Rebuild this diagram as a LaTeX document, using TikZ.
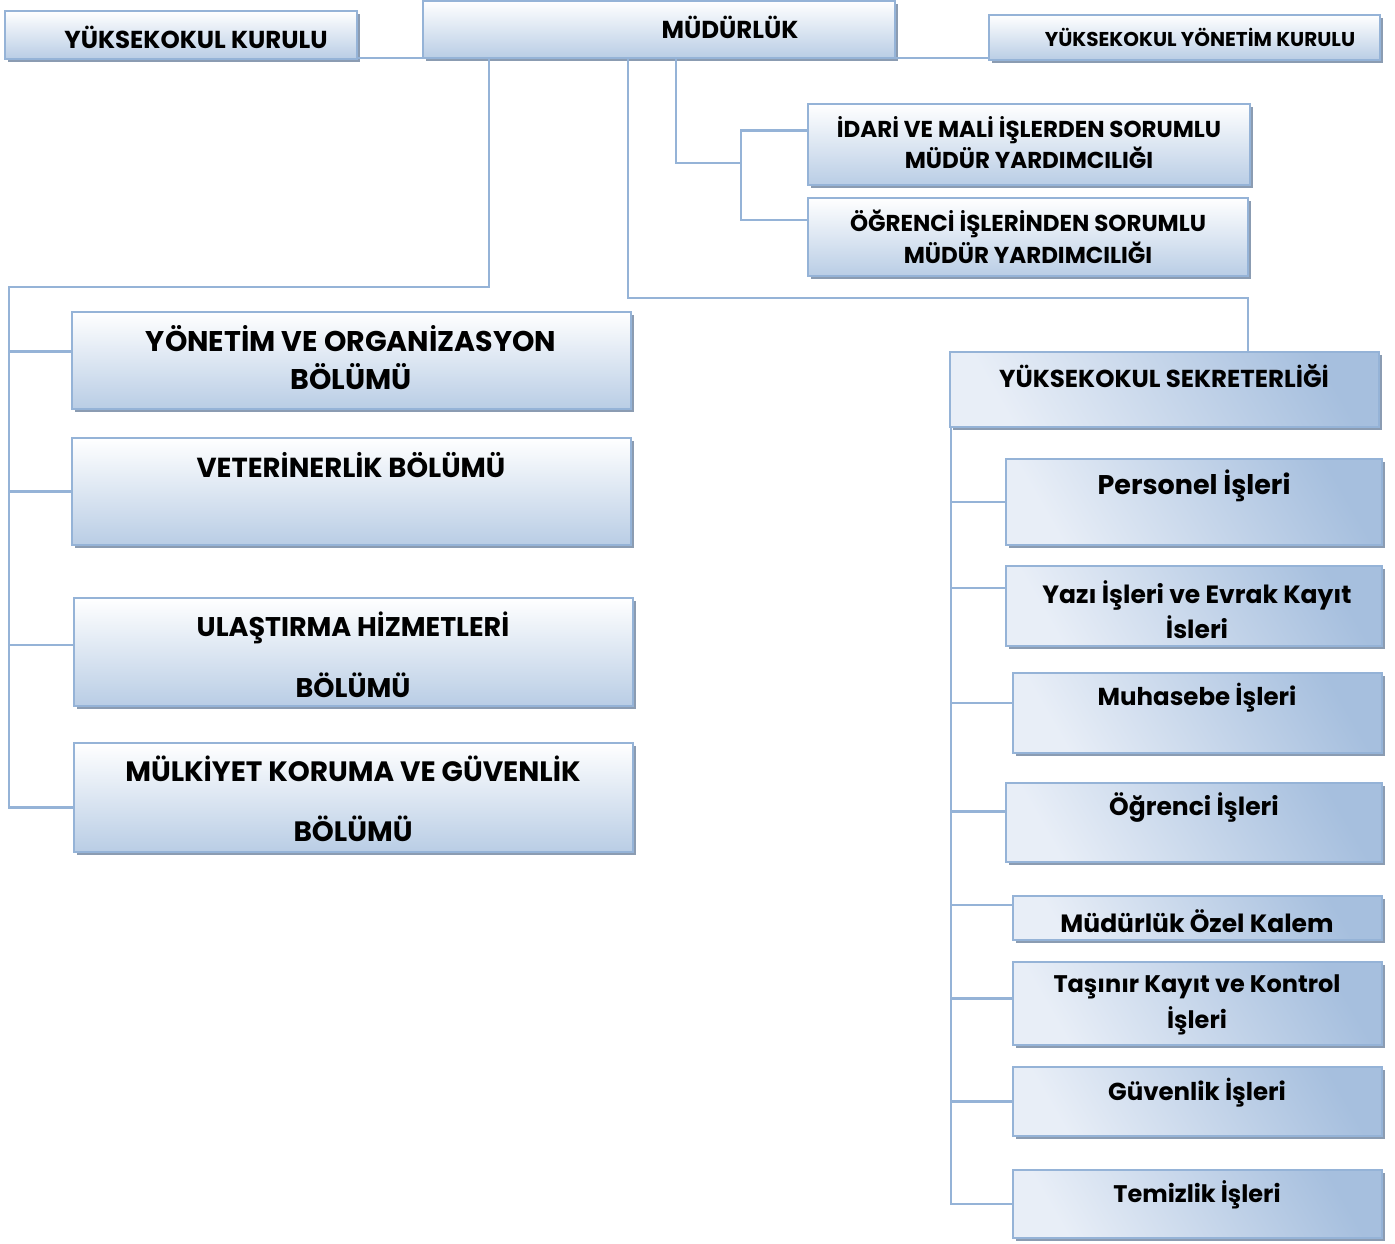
\documentclass[tikz,border=0pt]{standalone}
\usepackage{fontspec}
\setmainfont{Poppins}
\usetikzlibrary{positioning,fit,shadows,calc}
\definecolor{linkblue}{HTML}{95B3D7}
\definecolor{boxlow}{HTML}{B9CDE5}
\definecolor{boxdark}{HTML}{A6BFDE}
\definecolor{boxlight}{HTML}{E8EEF7}
\definecolor{shadowgray}{HTML}{8B9CB2}

\begin{document}
\begin{tikzpicture}[x=1pt,y=-1pt,
  unit/.style={draw=linkblue, line width=1.8pt, inner sep=0pt, top color=white, bottom color=boxlow,
    drop shadow={shadow xshift=3pt, shadow yshift=-3pt, fill=shadowgray, opacity=1}},
  desk/.style={draw=linkblue, line width=1.8pt, inner sep=0pt, top color=boxdark, bottom color=boxlight, shading angle=-60,
    drop shadow={shadow xshift=3pt, shadow yshift=-3pt, fill=shadowgray, opacity=1}},
  link/.style={draw=linkblue, line width=2.4pt},
  lbl/.style 2 args={font=\bfseries\fontsize{#1}{#2}\selectfont, align=center, inner sep=0pt}]
				\useasboundingbox (0,0) rectangle (1395,1244);
				
				% top row
				\node [unit, fit={(5,11) (357,59)}] (yk) {};
				\node [unit, fit={(423,1) (895,58)}] (mud) {};
				\node [unit, fit={(989,15) (1380,60)}] (ykyk) {};
				\node [unit, fit={(808,104) (1250,185)}] (idari) {};
				\node [unit, fit={(808,198) (1248,276)}] (ogr) {};
				
				% left units
				\node [unit, fit={(72,312) (631,409)}] (yon) {};
				\node [unit, fit={(72,438) (631,545)}] (vet) {};
				\node [unit, fit={(74,598) (633,706)}] (ula) {};
				\node [unit, fit={(74,743) (633,852)}] (mul) {};
				
				% secretariat
				\node [desk, fit={(950,352) (1379,427)}] (sek) {};
				\node [desk, fit={(1006,459) (1382,545)}] (per) {};
				\node [desk, fit={(1006,566) (1382,646)}] (yaz) {};
				\node [desk, fit={(1013,673) (1382,753)}] (muh) {};
				\node [desk, fit={(1006,783) (1382,862)}] (ogi) {};
				\node [desk, fit={(1013,896) (1382,940)}] (ozk) {};
				\node [desk, fit={(1013,962) (1382,1045)}] (tas) {};
				\node [desk, fit={(1013,1067) (1382,1136)}] (guv) {};
				\node [desk, fit={(1013,1170) (1382,1238)}] (tem) {};
				
				% texts
				\node [lbl={24.5}{29}] (yk-t) at (196,37) {YÜKSEKOKUL KURULU};
				\node [lbl={24.5}{29}] (mud-t) at (730,27) {MÜDÜRLÜK};
				\node [lbl={20}{24}] (ykyk-t) at (1200,37) {YÜKSEKOKUL YÖNETİM KURULU};
				\node [lbl={23}{31}] (idari-t) at (1029,143) {İDARİ VE MALİ İŞLERDEN SORUMLU\\MÜDÜR YARDIMCILIĞI};
				\node [lbl={23}{32}] (ogr-t) at (1028,237) {ÖĞRENCİ İŞLERİNDEN SORUMLU\\MÜDÜR YARDIMCILIĞI};
				\node [lbl={28.5}{38}] (yon-t) at (351,358) {YÖNETİM VE ORGANİZASYON\\BÖLÜMÜ};
				\node [lbl={27.5}{32}] (vet-t) at (351,465) {VETERİNERLİK BÖLÜMÜ};
				\node [lbl={27}{61}] (ula-t) at (353,655) {ULAŞTIRMA HİZMETLERİ\\BÖLÜMÜ};
				\node [lbl={28}{60}] (mul-t) at (353,799) {MÜLKİYET KORUMA VE GÜVENLİK\\BÖLÜMÜ};
				\node [lbl={24.5}{29}] (sek-t) at (1164,376) {YÜKSEKOKUL SEKRETERLİĞİ};
				\node [lbl={27}{32}] (per-t) at (1194,486) {Personel İşleri};
				\node [lbl={25}{35}] (yaz-t) at (1197,610) {Yazı İşleri ve Evrak Kayıt\\İsleri};
				\node [lbl={24.5}{29}] (muh-t) at (1197,698) {Muhasebe İşleri};
				\node [lbl={25}{29}] (ogi-t) at (1194,808) {Öğrenci İşleri};
				\node [lbl={25}{29}] (ozk-t) at (1197,921) {Müdürlük Özel Kalem};
				\node [lbl={24}{36}] (tas-t) at (1197,1005) {Taşınır Kayıt ve Kontrol\\İşleri};
				\node [lbl={24.5}{29}] (guv-t) at (1197,1093) {Güvenlik İşleri};
				\node [lbl={24}{29}] (tem-t) at (1197,1195) {Temizlik İşleri};
				
				% connectors
				\coordinate (c-yk) at ([yshift=2pt]yk.south east);
				\coordinate (c-myk) at ([yshift=1pt]mud.south east);
				\draw [link] (c-yk) -- (c-yk -| mud.west);
				\draw [link] (c-myk) -- (c-myk -| ykyk.west);
				
				\coordinate (dj) at (741,163);
				\draw [link] ([xshift=17pt]mud.south) |- (dj);
				\draw [link] ([yshift=14pt]idari.west) -| (dj) |- ([yshift=17pt]ogr.west);
				
				\coordinate (lb) at (9,287);
				\draw [link] ([xshift=-170pt]mud.south) |- (lb) |- ([yshift=-10pt]mul.west);
				\draw [link] ([yshift=9pt]yon.west) -- ([yshift=9pt]yon.west -| lb);
				\draw [link] (vet.west) -- (vet.west -| lb);
				\draw [link] ([yshift=7pt]ula.west) -- ([yshift=7pt]ula.west -| lb);
				
				\coordinate (rj) at (1248,298);
				\draw [link] ([xshift=-31pt]mud.south) |- (rj) -- (rj |- sek.north);
				
				\coordinate (rb) at (951,427);
				\draw [link] (rb) |- (tem.west);
				\draw [link] (per.west) -- (per.west -| rb);
				\draw [link] ([yshift=18pt]yaz.west) -- ([yshift=18pt]yaz.west -| rb);
				\draw [link] ([yshift=10pt]muh.west) -- ([yshift=10pt]muh.west -| rb);
				\draw [link] ([yshift=11pt]ogi.west) -- ([yshift=11pt]ogi.west -| rb);
				\draw [link] ([yshift=13pt]ozk.west) -- ([yshift=13pt]ozk.west -| rb);
				\draw [link] ([yshift=5pt]tas.west) -- ([yshift=5pt]tas.west -| rb);
				\draw [link] (guv.west) -- (guv.west -| rb);
\end{tikzpicture}
\end{document}
